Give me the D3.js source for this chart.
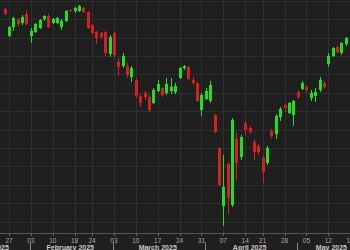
<!DOCTYPE html>
<html><head><meta charset="utf-8">
<script src="https://cdn.jsdelivr.net/npm/d3@7/dist/d3.min.js"></script>
<style>html,body{margin:0;padding:0;background:#1f1f1f;overflow:hidden}svg{display:block}</style>
</head><body><svg id="chart" width="350" height="250"></svg>
<script>
// Trading days shown (Jan 24 – May 16, 2025)
const dates = ["2025-01-24","2025-01-27","2025-01-28","2025-01-29","2025-01-30","2025-01-31",
"2025-02-03","2025-02-04","2025-02-05","2025-02-06","2025-02-07","2025-02-10","2025-02-11","2025-02-12","2025-02-13","2025-02-14",
"2025-02-18","2025-02-19","2025-02-20","2025-02-21","2025-02-24","2025-02-25","2025-02-26","2025-02-27","2025-02-28",
"2025-03-03","2025-03-04","2025-03-05","2025-03-06","2025-03-07","2025-03-10","2025-03-11","2025-03-12","2025-03-13","2025-03-14",
"2025-03-17","2025-03-18","2025-03-19","2025-03-20","2025-03-21","2025-03-24","2025-03-25","2025-03-26","2025-03-27","2025-03-28","2025-03-31",
"2025-04-01","2025-04-02","2025-04-03","2025-04-04","2025-04-07","2025-04-08","2025-04-09","2025-04-10","2025-04-11",
"2025-04-14","2025-04-15","2025-04-16","2025-04-17","2025-04-21","2025-04-22","2025-04-23","2025-04-24","2025-04-25",
"2025-04-28","2025-04-29","2025-04-30","2025-05-01","2025-05-02","2025-05-05","2025-05-06","2025-05-07","2025-05-08","2025-05-09",
"2025-05-12","2025-05-13","2025-05-14","2025-05-15","2025-05-16"];
const nextSessions = ["2025-05-19"];

const open = [22275,21542,21786,21977,21895,22140,21542,21651,21759,22004,22085,21895,21895,21786,21949,22248,22221,22221,22303,22194,
21841,21651,21623,21651,21053,21623,20835,20727,20727,20428,20346,19912,19993,19885,19722,20048,20129,19993,20048,20020,
20401,20672,20700,20346,20265,19531,19830,19776,19395,18499,16923,18064,16950,18743,18254,19178,19042,18662,18553,18227,
18091,18961,18879,19341,19667,19450,19395,20020,20102,20156,19857,19912,20075,20265,20781,20998,21243,21080,21325];
const high = [22303,21814,22058,22031,22112,22248,21759,21895,22004,22112,22140,22031,22058,22004,22248,22275,22330,22384,22330,22221,
21868,21678,21651,21678,21569,21651,20944,21080,20808,20727,20401,19966,20048,19939,20129,20346,20156,20401,20401,20265,
20700,20754,20727,20428,20292,19993,20129,20319,19423,18526,18309,18118,19314,18906,18852,19232,19097,18743,18608,18309,
18553,19015,19423,19613,19722,19749,19803,20075,20319,20211,20075,20129,20428,20319,21080,21243,21297,21379,21515];
const low = [22112,21515,21678,21786,21841,21841,21352,21623,21732,21949,21759,21868,21868,21705,21922,22194,22167,22194,22167,21732,
21596,21325,21460,20998,20971,20971,20482,20672,20401,20292,19857,19613,19803,19477,19694,20020,19885,19939,19966,19966,
20374,20618,20346,20211,19749,19368,19803,19722,18906,17466,16380,16706,16896,17629,18173,18825,18879,18173,18309,17548,
18037,18771,18743,19232,19477,19423,19097,19830,20075,19993,19776,19749,20020,20102,20700,20971,21080,21026,21270];
const close = [22140,21786,22031,21868,22058,21868,21678,21868,21977,22085,21786,22004,22031,21949,22221,22221,22303,22357,22194,21759,
21623,21488,21515,21080,21515,21026,20700,20998,20482,20672,19912,19722,19885,19531,20075,20238,19939,20238,20156,20183,
20672,20727,20374,20265,19776,19939,20048,20211,18934,17494,17439,17140,19260,18091,18798,18988,18934,18390,18390,17847,
18499,18825,19368,19558,19586,19722,19776,19885,20265,20075,19993,20020,20346,20156,20998,21216,21107,21352,21488];

const tickDates = ["2025-01-27","2025-02-03","2025-02-10","2025-02-18","2025-02-24","2025-03-03","2025-03-10","2025-03-17","2025-03-24",
"2025-03-31","2025-04-07","2025-04-14","2025-04-21","2025-04-28","2025-05-05","2025-05-12","2025-05-19"];
const tickLabels = ["27","03","10","18","24","03","10","17","24","31","07","14","21","28","05","12","19"];
const monthKeys = ["2025-01","2025-02","2025-03","2025-04","2025-05"];
const monthLabels = ["January 2025","February 2025","March 2025","April 2025","May 2025"];

const W = 350, H = 250, axisY = 233;
const svg = d3.select("#chart");
svg.append("rect").attr("width", W).attr("height", H).attr("fill", "#1f1f1f");

const domainDates = dates.concat(nextSessions);
const x = d3.scalePoint().domain(domainDates).range([4.63, 350.17]);
const y = d3.scaleLinear().domain([16189, 22520]).range([axisY, 0]);

const grid = svg.append("g");
grid.selectAll("line.h").data(y.ticks(12)).join("line")
  .attr("x1", 0).attr("x2", W)
  .attr("y1", d => Math.round(y(d)) + 0.5).attr("y2", d => Math.round(y(d)) + 0.5)
  .attr("stroke", "#2f2f2f").attr("stroke-width", 1);
grid.selectAll("line.v").data(tickDates).join("line")
  .attr("x1", d => Math.round(x(d)) + 0.5).attr("x2", d => Math.round(x(d)) + 0.5)
  .attr("y1", 0).attr("y2", axisY)
  .attr("stroke", "#2f2f2f").attr("stroke-width", 1);

const candles = dates.map((d, i) => ({d, o: open[i], h: high[i], l: low[i], c: close[i]}));
const up = "#1fe01f", down = "#d42020";
const cg = svg.append("g");
cg.selectAll("line").data(candles).join("line")
  .attr("x1", d => Math.round(x(d.d)) + 0.5).attr("x2", d => Math.round(x(d.d)) + 0.5)
  .attr("y1", d => y(d.h)).attr("y2", d => y(d.l))
  .attr("stroke", d => d.c >= d.o ? up : down).attr("stroke-width", 1);
cg.selectAll("rect").data(candles).join("rect")
  .attr("x", d => Math.round(x(d.d)) - 1).attr("width", 3)
  .attr("y", d => y(Math.max(d.o, d.c)))
  .attr("height", d => Math.max(1, Math.abs(y(d.o) - y(d.c))))
  .attr("fill", d => d.c >= d.o ? up : down);

// x axis
const ax = svg.append("g").attr("transform", `translate(0,${axisY})`);
ax.append("line").attr("x1", 0).attr("x2", W).attr("y1", 0.5).attr("y2", 0.5).attr("stroke", "#555").attr("stroke-width", 1);
ax.selectAll("line.tk").data(tickDates).join("line").attr("class", "tk")
  .attr("x1", d => Math.round(x(d)) + 0.5).attr("x2", d => Math.round(x(d)) + 0.5)
  .attr("y1", 0).attr("y2", 3).attr("stroke", "#666");
ax.selectAll("text.day").data(tickDates).join("text").attr("class", "day")
  .attr("x", d => x(d)).attr("y", 9.5)
  .attr("text-anchor", "middle")
  .attr("font-family", "Liberation Sans, Arial, sans-serif").attr("font-size", 6.5)
  .attr("fill", "#a8a8a8").text((d, i) => tickLabels[i]);

// month separators and labels
const monthFirst = monthKeys.map(m => dates.find(d => d.startsWith(m)));
const monthLast = monthKeys.map(m => dates.filter(d => d.startsWith(m)).pop());
ax.selectAll("line.sep").data(monthFirst.slice(1)).join("line").attr("class", "sep")
  .attr("x1", d => Math.round(x(d)) - 0.5).attr("x2", d => Math.round(x(d)) - 0.5)
  .attr("y1", 10).attr("y2", 17).attr("stroke", "#888");
ax.selectAll("text.mon").data(monthLabels).join("text").attr("class", "mon")
  .attr("x", (d, i) => {
    if (i === 0) return x(monthFirst[1]) - 22;
    if (i === monthLabels.length - 1) return W - 3;
    return (x(monthFirst[i]) + x(monthLast[i])) / 2;
  })
  .attr("text-anchor", (d, i) => i === 0 || i === monthLabels.length - 1 ? "end" : "middle")
  .attr("y", 16.5)
  .attr("font-family", "Liberation Sans, Arial, sans-serif").attr("font-size", 7).attr("font-weight", "bold")
  .attr("fill", "#c8c8c8").text(d => d);
</script></body></html>
